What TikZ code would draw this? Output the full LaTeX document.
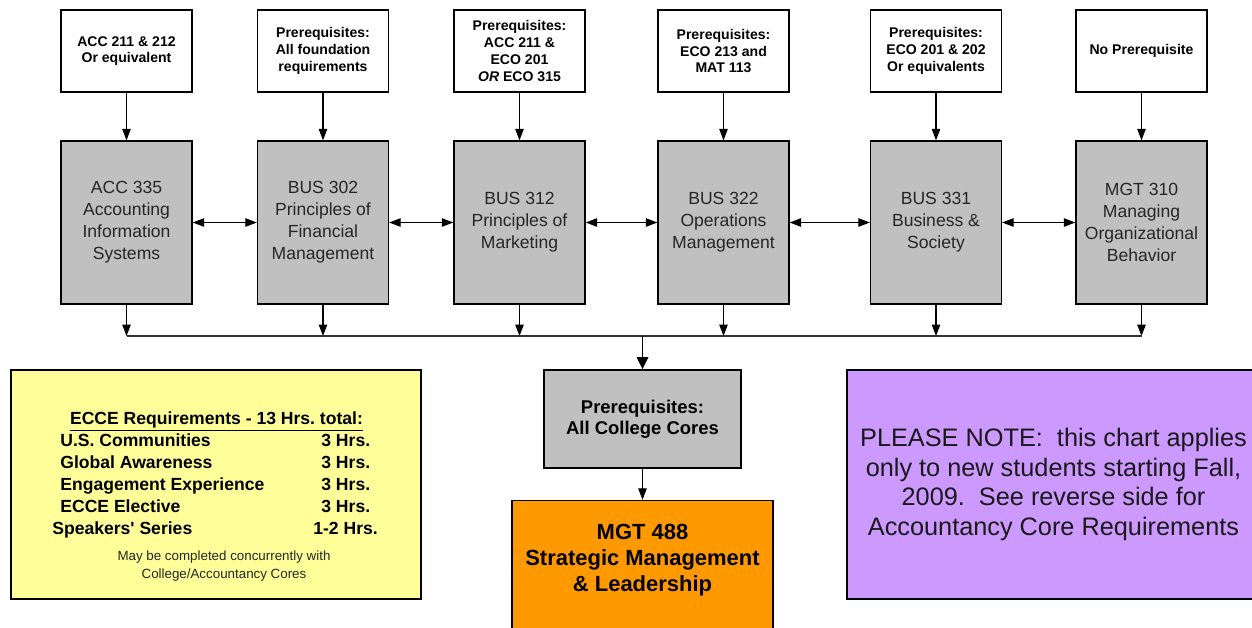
\documentclass[tikz,border=0pt]{standalone}
\usepackage{fontspec}
\setmainfont{Liberation Sans}[Ligatures=TeXOff]
\usetikzlibrary{arrows.meta}
\frenchspacing

\definecolor{coregray}{HTML}{C0C0C0}
\definecolor{ecceyellow}{HTML}{FFFF99}
\definecolor{capstoneorange}{HTML}{FF9900}
\definecolor{notepurple}{HTML}{CC99FF}

\begin{document}
\begin{tikzpicture}[x=0.02cm,y=-0.02cm,
  prereqbox/.style={draw,line width=0.8pt,fill=white,minimum width=2.62cm,minimum height=1.64cm,inner sep=1pt,align=center,font=\fontsize{8}{9.6}\selectfont\bfseries},
  corebox/.style={draw,line width=0.8pt,fill=coregray,minimum width=2.62cm,minimum height=3.26cm,inner sep=1pt,align=center,text=black!85,font=\fontsize{10}{12.5}\selectfont},
  tip/.style={line width=0.6pt,-{Triangle[length=6.5pt,width=4.8pt]}},
  twotip/.style={line width=0.6pt,{Triangle[length=6.5pt,width=4.8pt]}-{Triangle[length=6.5pt,width=4.8pt]}},
  ecceitem/.style={anchor=base west,inner sep=0pt,font=\fontsize{10}{12.5}\selectfont\bfseries}]
  \useasboundingbox (0,0) rectangle (1252,627);

  \node[prereqbox] (p1) at (126.5,51) {ACC 211 \& 212\\Or equivalent};
  \node[prereqbox] (p2) at (323,51) {Prerequisites:\\All foundation\\requirements};
  \node[prereqbox] (p3) at (519.5,51) {Prerequisites:\\ACC 211 \&\\ECO 201\\\textit{OR} ECO 315};
  \node[prereqbox] (p4) at (723.5,51) {Prerequisites:\\ECO 213 and\\MAT 113};
  \node[prereqbox] (p5) at (936,51) {Prerequisites:\\ECO 201 \& 202\\Or equivalents};
  \node[prereqbox] (p6) at (1141.5,51) {No Prerequisite};

  \node[corebox] (c1) at (126.5,222.5) {ACC 335\\Accounting\\Information\\Systems};
  \node[corebox] (c2) at (323,222.5) {BUS 302\\Principles of\\Financial\\Management};
  \node[corebox] (c3) at (519.5,222.5) {BUS 312\\Principles of\\Marketing};
  \node[corebox] (c4) at (723.5,222.5) {BUS 322\\Operations\\Management};
  \node[corebox] (c5) at (936,222.5) {BUS 331\\Business \&\\Society};
  \node[corebox] (c6) at (1141.5,222.5) {MGT 310\\Managing\\Organizational\\Behavior};

  \draw[tip] (p1) -- (c1);
  \draw[tip] (p2) -- (c2);
  \draw[tip] (p3) -- (c3);
  \draw[tip] (p4) -- (c4);
  \draw[tip] (p5) -- (c5);
  \draw[tip] (p6) -- (c6);

  \draw[twotip] (c1) -- (c2);
  \draw[twotip] (c2) -- (c3);
  \draw[twotip] (c3) -- (c4);
  \draw[twotip] (c4) -- (c5);
  \draw[twotip] (c5) -- (c6);

  \coordinate (bus) at (642.5,336);
  \draw[tip] (c1) -- (c1 |- bus);
  \draw[tip] (c2) -- (c2 |- bus);
  \draw[tip] (c3) -- (c3 |- bus);
  \draw[tip] (c4) -- (c4 |- bus);
  \draw[tip] (c5) -- (c5 |- bus);
  \draw[tip] (c6) -- (c6 |- bus);
  \draw[line width=0.8pt,black!80] (c1 |- bus) -- (c6 |- bus);

  \node[draw,line width=0.8pt,fill=coregray,minimum width=3.94cm,minimum height=1.96cm,align=center,
    font=\fontsize{10.5}{12}\selectfont\bfseries] (college) at (642.5,419) {Prerequisites:\\All College Cores};
  \draw[line width=1.1pt,-{Triangle[length=7pt,width=6.5pt]}] (bus) -- (college);

  \node[draw,line width=0.8pt,fill=capstoneorange,minimum width=5.22cm,minimum height=2.9cm] (mgt) at (642.5,573) {};
  \node[align=center,font=\fontsize{12.5}{14.8}\selectfont\bfseries] (mgttext) at (642.5,560)
    {MGT 488\\Strategic Management\\\& Leadership};
  \draw[tip] (college) -- (mgt);

  \node[draw,line width=0.8pt,fill=ecceyellow,minimum width=8.2cm,minimum height=4.58cm] (ecce) at (216,484.5) {};
  \node[anchor=base,inner sep=0pt,font=\fontsize{10}{12.5}\selectfont\bfseries] (eccehead) at (216.5,424)
    {\underline{ECCE Requirements - 13 Hrs. total:}};
  \node[ecceitem] (e1) at (60,446) {U.S. Communities};
  \node[ecceitem] (e1h) at (321,446) {3 Hrs.};
  \node[ecceitem] (e2) at (60,468) {Global Awareness};
  \node[ecceitem] (e2h) at (321,468) {3 Hrs.};
  \node[ecceitem] (e3) at (60,490) {Engagement Experience};
  \node[ecceitem] (e3h) at (321,490) {3 Hrs.};
  \node[ecceitem] (e4) at (60,512) {ECCE Elective};
  \node[ecceitem] (e4h) at (321,512) {3 Hrs.};
  \node[ecceitem] (e5) at (52,534) {Speakers' Series};
  \node[ecceitem] (e5h) at (313,534) {1-2 Hrs.};
  \node[align=center,text=black!85,font=\fontsize{7.6}{10.2}\selectfont] (eccenote) at (224,566)
    {May be completed concurrently with\\College/Accountancy Cores};

  \node[draw,line width=0.8pt,fill=notepurple,minimum width=8.26cm,minimum height=4.58cm,align=center,
    text=black!90,font=\fontsize{14.4}{17}\selectfont] (note) at (1053.5,484.5)
    {PLEASE NOTE:\ \ this chart applies\\only to new students starting Fall,\\2009.\ \ See reverse side for\\Accountancy Core Requirements};
\end{tikzpicture}
\end{document}
